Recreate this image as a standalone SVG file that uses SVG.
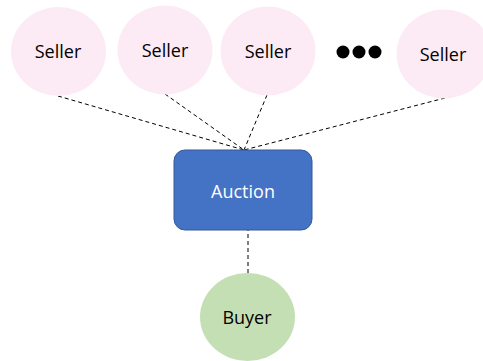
<svg xmlns="http://www.w3.org/2000/svg" width="483" height="361" viewBox="0 0 483 361">
  <style>
    .seller { fill: #FCEBF4; }
    .buyer { fill: #C5DFB4; }
    .auction { fill: #4472C4; stroke: #35599B; stroke-width: 1; }
    .label { font-family: "Open Sans", "Liberation Sans", Arial, sans-serif; font-size: 18px; text-anchor: middle; fill: #000; }
    .label-light { fill: #FFFFFF; }
    .link { fill: none; stroke: #000; stroke-width: 1; stroke-dasharray: 4 3; }
  </style>
  <rect width="483" height="361" fill="#FFFFFF"/>

  <g id="connectors">
    <line class="link" x1="58" y1="96" x2="244" y2="150"/>
    <line class="link" x1="165" y1="94" x2="244" y2="150"/>
    <line class="link" x1="267" y1="95" x2="244" y2="150"/>
    <line class="link" x1="445" y1="98" x2="244" y2="150"/>
    <line class="link" x1="248" y1="227" x2="248" y2="273"/>
  </g>

  <g id="seller-1">
    <ellipse class="seller" cx="58.5" cy="51.5" rx="47.5" ry="44.5"/>
    <text class="label" x="58" y="58">Seller</text>
  </g>
  <g id="seller-2">
    <ellipse class="seller" cx="165" cy="50" rx="47.5" ry="44.5"/>
    <text class="label" x="165" y="57">Seller</text>
  </g>
  <g id="seller-3">
    <ellipse class="seller" cx="268" cy="51" rx="47.5" ry="44.5"/>
    <text class="label" x="268" y="58">Seller</text>
  </g>
  <g id="ellipsis">
    <circle cx="343" cy="52" r="6.5" fill="#000"/>
    <circle cx="359" cy="52" r="6.5" fill="#000"/>
    <circle cx="375" cy="52" r="6.5" fill="#000"/>
  </g>
  <g id="seller-4">
    <ellipse class="seller" cx="444" cy="54" rx="47.5" ry="44.5"/>
    <text class="label" x="443" y="61">Seller</text>
  </g>

  <g id="auction">
    <rect class="auction" x="174" y="150" width="138" height="80" rx="11" ry="11"/>
    <text class="label label-light" x="243" y="198">Auction</text>
  </g>

  <g id="buyer">
    <ellipse class="buyer" cx="247.5" cy="317" rx="47.5" ry="44"/>
    <text class="label" x="247" y="324">Buyer</text>
  </g>
</svg>
